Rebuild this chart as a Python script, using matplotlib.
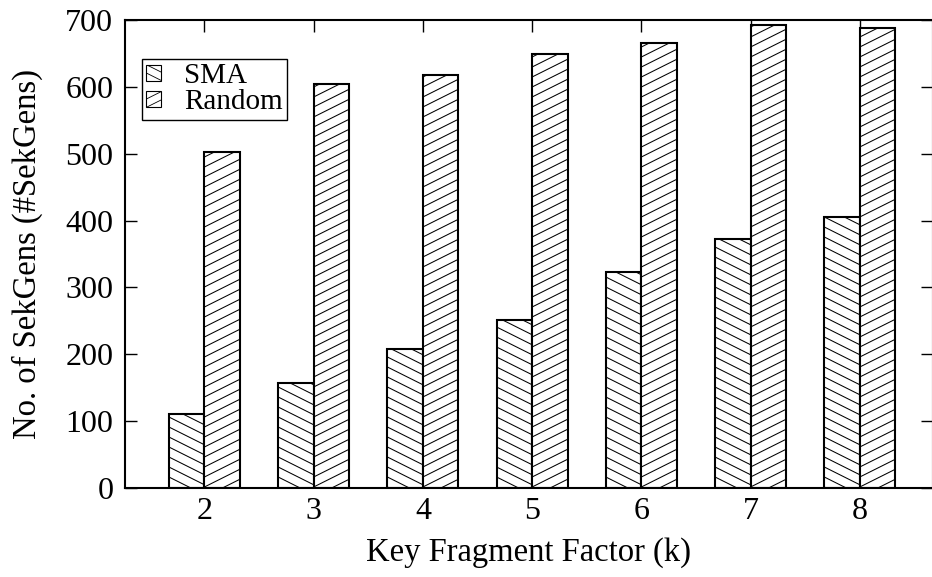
#!/usr/bin/env python3

import matplotlib
matplotlib.use("Agg")
import matplotlib.pyplot as plt
import numpy as np
from matplotlib.collections import LineCollection
from matplotlib.legend_handler import HandlerBase
from matplotlib.lines import Line2D
from matplotlib.patches import Rectangle
from matplotlib.transforms import IdentityTransform


k_values = [2, 3, 4, 5, 6, 7, 8]
sma = [110, 157, 208, 252, 323, 372, 405]
rnd = [502, 605, 617, 649, 665, 693, 688]

plt.rcParams['font.family'] = ['Liberation Serif', 'DejaVu Serif']


def hatch_bar(ax, bar, slope, step=10.0):
    # slanted fill lines, laid out in pixels and clipped to the bar
    ext = bar.get_window_extent()
    x0, y0, x1, y1 = ext.x0, ext.y0, ext.x1, ext.y1
    w = x1 - x0
    lo = y0 - max(0.0, slope * w) - step
    hi = y1 + max(0.0, -slope * w) + step
    cs = np.arange(np.floor(lo / step) * step, hi, step)
    segs = [[(x0, c), (x1, c + slope * w)] for c in cs]
    lc = LineCollection(segs, colors='black', linewidths=0.75,
                        transform=IdentityTransform(), zorder=2.5)
    ax.add_collection(lc, autolim=False)
    # add_collection clips to the axes patch, so clip to the bar afterwards
    lc.set_clip_path(bar)


class HatchHandler(HandlerBase):
    def __init__(self, slope):
        super().__init__()
        self.slope = slope

    def create_artists(self, legend, orig_handle, xdescent, ydescent,
                       width, height, fontsize, trans):
        x0, y0 = -xdescent, -ydescent
        rect = Rectangle((x0, y0), width, height, facecolor='white',
                         edgecolor='black', linewidth=0.8, transform=trans)
        arts = [rect]
        step = height * 0.5
        for c in np.arange(-2 * height, 3 * height, step):
            if self.slope < 0:
                ys = [y0 + height + c, y0 + height + c + self.slope * width]
            else:
                ys = [y0 + c, y0 + c + self.slope * width]
            ln = Line2D([x0, x0 + width], ys, color='black', linewidth=0.6,
                        transform=trans)
            ln.set_clip_path(rect)
            arts.append(ln)
        return arts


fig = plt.figure(figsize=(9.32, 5.77), dpi=100)
ax = fig.add_axes([125 / 932, 89 / 577, 808 / 932, 468 / 577])

x = np.array(k_values, dtype=float)
bw = 0.325
b1 = ax.bar(x - bw / 2, sma, bw, facecolor='white', edgecolor='black',
            linewidth=1.5, zorder=2)
b2 = ax.bar(x + bw / 2, rnd, bw, facecolor='white', edgecolor='black',
            linewidth=1.5, zorder=2)

ax.set_xlim(1.273, 8.67)
ax.set_ylim(0, 700)
ax.set_xticks(k_values)
ax.set_yticks(range(0, 701, 100))

for b in b1:
    hatch_bar(ax, b, -0.5)
for b in b2:
    hatch_bar(ax, b, 0.5)

for s in ax.spines.values():
    s.set_linewidth(1.5)
ax.tick_params(direction='in', length=8.5, width=1.0, top=True, right=True,
               labelsize=23)
ax.tick_params(axis='y', pad=8.4)
ax.tick_params(axis='x', pad=6.5)

ax.set_xlabel('Key Fragment Factor (k)', fontsize=23.5)
ax.set_ylabel('No. of SekGens (#SekGens)', fontsize=23.5)
ax.xaxis.label.set_va('center')
ax.yaxis.label.set_va('center')
ax.xaxis.set_label_coords(0.5, (488 - 553) / 468)
ax.yaxis.set_label_coords((27 - 125) / 808, 0.5)

h1 = Rectangle((0, 0), 1, 1)
h2 = Rectangle((0, 0), 1, 1)
leg = ax.legend([h1, h2], ['SMA', 'Random'],
                handler_map={h1: HatchHandler(-0.5), h2: HatchHandler(0.5)},
                loc='upper left', bbox_to_anchor=((142 - 125) / 808, 1 - 39 / 468),
                borderaxespad=0, fontsize=21, handlelength=0.5,
                handleheight=0.5, handletextpad=0.8, borderpad=0.15,
                labelspacing=0.0, fancybox=False, framealpha=1,
                edgecolor='black')
leg.get_frame().set_linewidth(1.0)

fig.savefig('out.png', dpi=100)
